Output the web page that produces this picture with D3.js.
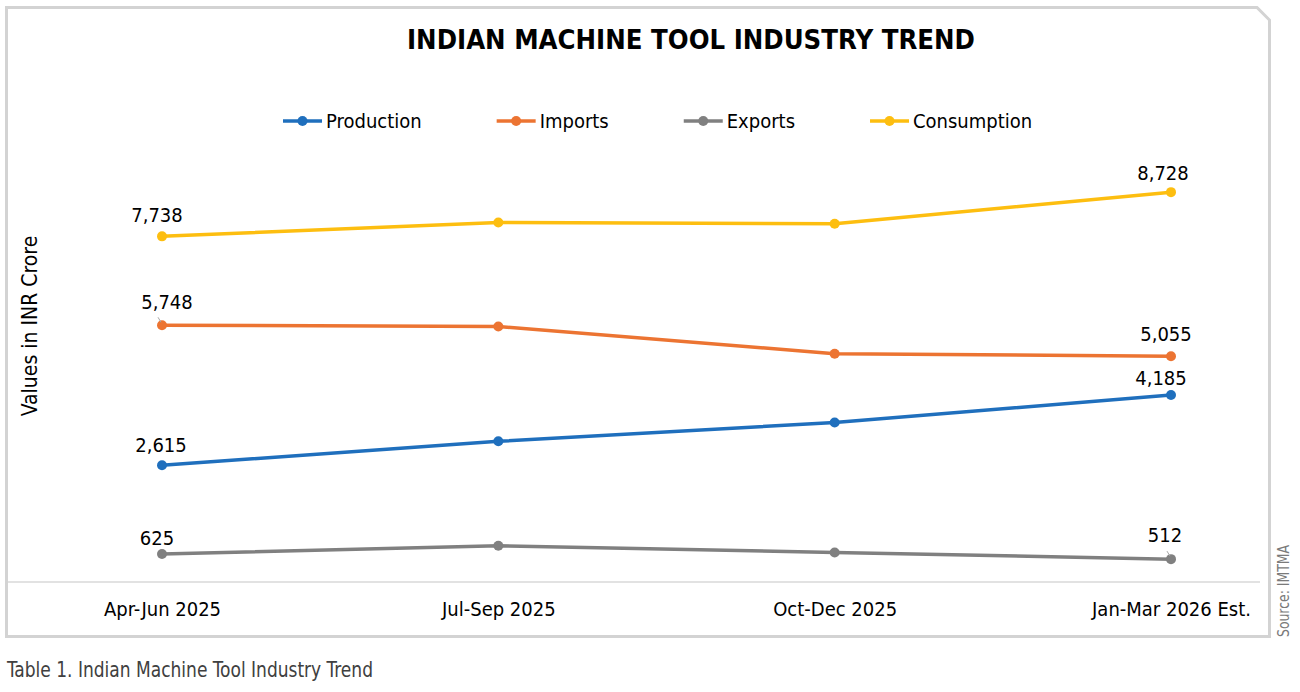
<!DOCTYPE html>
<html>
<head>
<meta charset="utf-8">
<script src="https://cdn.jsdelivr.net/npm/d3@7"></script>
<style>
  body { margin: 0; background: #fff; }
  svg text { font-family: Tahoma, "DejaVu Sans Condensed", "DejaVu Sans", sans-serif; }
</style>
</head>
<body>
<div id="chart"></div>
<script>
const categories = ['Apr-Jun 2025', 'Jul-Sep 2025', 'Oct-Dec 2025', 'Jan-Mar 2026 Est.'];
const production = [2615, 3150, 3570, 4185];
const imports = [5748, 5720, 5110, 5055];
const exportsData = [625, 810, 660, 512];
const consumption = [7738, 8050, 8020, 8728];
const seriesNames = ['Production', 'Imports', 'Exports', 'Consumption'];
const seriesColors = ['#1F6FBD', '#EC7432', '#808080', '#FDBE10'];
// only the first and last quarters carry data labels
const labelledIdx = [0, 3];

const width = 1300;
const height = 692;

// label nudges (dx, dy from point), the few Excel moved by hand get a leader
const labelNudge = {
  Production: [[-1, -13], [-10, -10]],
  Imports: [[5, -16, true], [-5, -15]],
  Exports: [[-5, -9], [-6, -17, true]],
  Consumption: [[-5, -14], [-8, -12]]
};

const svg = d3.select('#chart')
  .append('svg')
  .attr('width', width)
  .attr('height', height);

// Frame with the clipped top-right corner
svg.append('path')
  .attr('d', 'M6.5,7.5 H1257 L1269.5,20 V636.5 H6.5 Z')
  .attr('fill', '#fff')
  .attr('stroke', '#d3d3d3')
  .attr('stroke-width', 3);

// Title
svg.append('text')
  .attr('x', 691)
  .attr('y', 49)
  .attr('text-anchor', 'middle')
  .attr('font-size', 27)
  .attr('font-weight', 'bold')
  .attr('fill', '#000')
  .attr('textLength', 568)
  .attr('lengthAdjust', 'spacingAndGlyphs')
  .text('INDIAN MACHINE TOOL INDUSTRY TREND');

// Scales
const x = d3.scalePoint()
  .domain(categories)
  .range([162, 1171]);

const y = d3.scaleLinear()
  .domain([0, 9000])
  .range([582, 180]);

// Category axis: only a light baseline, no ticks
const xAxis = svg.append('g')
  .attr('transform', `translate(0,${y(0)})`)
  .call(d3.axisBottom(x).tickSize(0).tickPadding(20));
xAxis.select('.domain').remove();
xAxis.selectAll('text')
  .attr('font-size', 20)
  .attr('fill', '#000')
  .attr('font-family', 'Tahoma, "DejaVu Sans Condensed", "DejaVu Sans", sans-serif');

svg.append('line')
  .attr('x1', 8)
  .attr('x2', 1260)
  .attr('y1', y(0))
  .attr('y2', y(0))
  .attr('stroke', '#d9d9d9')
  .attr('stroke-width', 1.5);

// Y axis title
svg.append('text')
  .attr('transform', 'translate(37,326) rotate(-90)')
  .attr('text-anchor', 'middle')
  .attr('font-size', 21)
  .attr('fill', '#000')
  .text('Values in INR Crore');

// Series
const series = [production, imports, exportsData, consumption].map((vals, i) => ({
  name: seriesNames[i],
  color: seriesColors[i],
  values: vals.map((v, j) => ({ cat: categories[j], value: v, idx: j }))
}));

const line = d3.line()
  .x(d => x(d.cat))
  .y(d => y(d.value));

const seriesG = svg.append('g')
  .selectAll('g')
  .data(series)
  .enter()
  .append('g');

seriesG.append('path')
  .attr('d', d => line(d.values))
  .attr('fill', 'none')
  .attr('stroke', d => d.color)
  .attr('stroke-width', 3.5)
  .attr('stroke-linejoin', 'round');

seriesG.selectAll('circle')
  .data(d => d.values.map(v => Object.assign({ color: d.color }, v)))
  .enter()
  .append('circle')
  .attr('cx', d => x(d.cat))
  .attr('cy', d => y(d.value))
  .attr('r', 5)
  .attr('fill', d => d.color);

// Data labels
const fmt = d3.format(',');
series.forEach(s => {
  labelledIdx.forEach((idx, k) => {
    const p = s.values[idx];
    const nudge = labelNudge[s.name][k];
    const px = x(p.cat);
    const py = y(p.value);
    if (nudge[2]) {
      svg.append('line')
        .attr('x1', px - 1)
        .attr('y1', py - 3)
        .attr('x2', px - 4)
        .attr('y2', py - 8)
        .attr('stroke', '#a6a6a6')
        .attr('stroke-width', 1);
    }
    svg.append('text')
      .attr('x', px + nudge[0])
      .attr('y', py + nudge[1])
      .attr('text-anchor', 'middle')
      .attr('font-size', 20)
      .attr('fill', '#000')
      .text(fmt(p.value));
  });
});

// Legend, items laid out left to right with equal gaps
const legend = svg.append('g');
let lx = 283;
const ly = 121;
seriesNames.forEach((name, i) => {
  const item = legend.append('g');
  item.append('line')
    .attr('x1', lx)
    .attr('x2', lx + 39)
    .attr('y1', ly)
    .attr('y2', ly)
    .attr('stroke', seriesColors[i])
    .attr('stroke-width', 3.5);
  item.append('circle')
    .attr('cx', lx + 19.5)
    .attr('cy', ly)
    .attr('r', 5)
    .attr('fill', seriesColors[i]);
  const t = item.append('text')
    .attr('x', lx + 43)
    .attr('y', ly + 7)
    .attr('font-size', 20)
    .attr('fill', '#000')
    .text(name);
  lx += 43 + t.node().getComputedTextLength() + 75;
});

// Source, rotated on the right edge
svg.append('text')
  .attr('transform', 'translate(1289,637) rotate(-90)')
  .attr('font-size', 16)
  .attr('fill', '#7a7a7a')
  .attr('textLength', 92)
  .attr('lengthAdjust', 'spacingAndGlyphs')
  .style('font-family', '"Liberation Sans Narrow", "DejaVu Sans Condensed", sans-serif')
  .text('Source: IMTMA');

// Caption under the frame
svg.append('text')
  .attr('x', 7)
  .attr('y', 677)
  .attr('font-size', 21)
  .attr('fill', '#404040')
  .attr('textLength', 366)
  .attr('lengthAdjust', 'spacingAndGlyphs')
  .style('font-family', '"Liberation Sans Narrow", "DejaVu Sans Condensed", sans-serif')
  .text('Table 1. Indian Machine Tool Industry Trend');
</script>
</body>
</html>
